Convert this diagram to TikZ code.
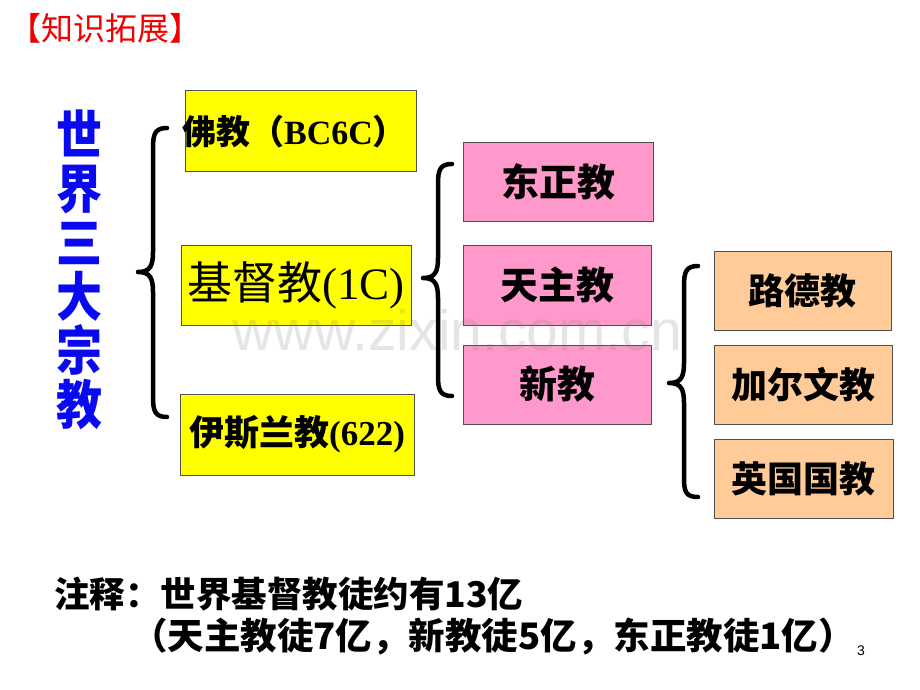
\documentclass[tikz,border=0pt]{standalone}
\usepackage{fontspec}
\usepackage{graphicx}
\setmainfont{Liberation Serif}
\newfontfamily\cjk{Noto Sans CJK SC}
\newfontfamily\wmfont{Liberation Sans}
\definecolor{ybox}{HTML}{FFFF00}
\definecolor{pbox}{HTML}{FF99CC}
\definecolor{obox}{HTML}{FFCC99}
\definecolor{edge}{HTML}{505050}
\definecolor{titlered}{HTML}{F00000}
\definecolor{vblue}{HTML}{0A0AF0}
\tikzset{
  rbox/.style={draw=edge, line width=1pt, inner sep=0pt, align=center, text=black},
  ybx/.style={rbox, fill=ybox},
  pbx/.style={rbox, fill=pbox, font=\cjk\bfseries\fontsize{38}{42}\selectfont},
  obx/.style={rbox, fill=obox, font=\cjk\bfseries\fontsize{36}{40}\selectfont},
  bracepath/.style={line width=4.5pt, line cap=round, line join=round},
  notetext/.style={anchor=base west, inner sep=0pt}
}
\begin{document}
\begin{tikzpicture}[x=1pt,y=-1pt]
\useasboundingbox (0,0) rectangle (920,690);
\fill[white] (0,0) rectangle (920,690);
% title
\node[anchor=west, inner sep=0pt, text=titlered, font=\cjk\fontsize{32}{36}\selectfont] (title) at (9,28) {【知识拓展】};
% vertical title
\node[inner sep=0pt, align=center, text=vblue, font=\cjk\bfseries\fontsize{46}{54}\selectfont] (vt) at (79,270)
  {\scalebox{1}[1.15]{世}\\\scalebox{1}[1.15]{界}\\\scalebox{1}[1.15]{三}\\\scalebox{1}[1.15]{大}\\\scalebox{1}[1.15]{宗}\\\scalebox{1}[1.15]{教}};
% yellow boxes
\node[ybx, minimum width=231pt, minimum height=80pt] (fo) at (300.5,131) {};
\node[anchor=west, inner sep=0pt, font=\bfseries\fontsize{34}{38}\selectfont] (fot) at (182,132) {{\cjk 佛教（}BC6C{\cjk ）}};
\node[ybx, minimum width=230pt, minimum height=80pt, font=\fontsize{45}{48}\selectfont] (jd) at (296,285) {{\cjk 基督教}(1C)};
\node[ybx, minimum width=234pt, minimum height=81pt, font=\bfseries\fontsize{35}{40}\selectfont] (ys) at (297,434.5) {{\cjk 伊斯兰教}(622)};
% pink boxes
\node[pbx, minimum width=190pt, minimum height=79pt] (dz) at (558,181.5) {东正教};
\node[pbx, minimum width=188pt, minimum height=80pt] (tz) at (557,285) {天主教};
\node[pbx, minimum width=188pt, minimum height=79pt] (xj) at (557,384.5) {新教};
% orange boxes
\node[obx, minimum width=177pt, minimum height=79pt] (ld) at (802.5,290.5) {路德教};
\node[obx, minimum width=178pt, minimum height=79pt] (je) at (803,384.5) {加尔文教};
\node[obx, minimum width=179pt, minimum height=79pt] (yg) at (803.5,478.5) {英国国教};
% braces
\draw[bracepath] (167,128) .. controls (155,128) and (153,134) .. (153,148)
  -- (153,252) .. controls (153,266) and (150,272) .. (138,272)
  .. controls (150,272) and (153,278) .. (153,292)
  -- (153,397) .. controls (153,411) and (155,417) .. (167,417);
\draw[bracepath] (452,164) .. controls (440,164) and (438,170) .. (438,184)
  -- (438,258) .. controls (438,272) and (435,278) .. (423,278)
  .. controls (435,278) and (438,284) .. (438,298)
  -- (438,376) .. controls (438,390) and (440,396) .. (452,396);
\draw[bracepath] (698,266) .. controls (686,266) and (684,272) .. (684,286)
  -- (684,363) .. controls (684,377) and (681,383) .. (669,383)
  .. controls (681,383) and (684,389) .. (684,403)
  -- (684,478) .. controls (684,492) and (686,497) .. (698,497);
% footnote
\node[notetext, font=\cjk\bfseries\fontsize{35.5}{40}\selectfont] (n1) at (54,607) {注释：世界基督教徒约有13亿};
\node[notetext, font=\cjk\bfseries\fontsize{36.5}{40}\selectfont] (n2) at (131,649) {（天主教徒7亿，新教徒5亿，东正教徒1亿）\kern-0.5em};
\node[notetext, font=\wmfont\fontsize{14}{16}\selectfont] (pg) at (857,655) {3};
% watermark
\node[notetext, text=gray, opacity=0.2, font=\wmfont\fontsize{57}{64}\selectfont] (wm) at (232,350) {www.zixin.com.cn};
\end{tikzpicture}
\end{document}
